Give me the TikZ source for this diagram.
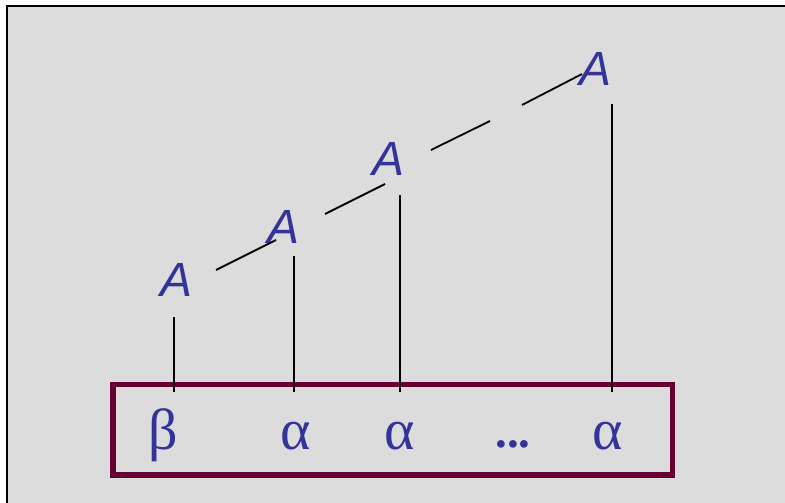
\documentclass[tikz,border=0pt]{standalone}
\usepackage{fontspec}
\setmainfont{Liberation Serif}
\newfontfamily\asans{Liberation Sans}
\definecolor{bgg}{HTML}{DCDCDC}
\definecolor{tblue}{HTML}{333399}
\definecolor{maroon}{HTML}{660033}
\begin{document}
\begin{tikzpicture}[x=1pt,y=-1pt,
  letA/.style={anchor=base,inner sep=0pt,text=tblue,font=\asans\itshape\fontsize{48}{50}\selectfont},
  greek/.style={anchor=base,inner sep=0pt,text=tblue,font=\fontsize{58}{60}\selectfont},
  link/.style={draw=black,line width=1.8pt},
  seq/.style={draw=maroon,line width=5.5pt}]
\useasboundingbox (0,0) rectangle (785,503);
\clip (0,0) rectangle (785,503);
\fill[white] (0,0) rectangle (785,503);
\draw[fill=bgg,line width=2pt] (7,6) rectangle (800,520);
% A nodes
\node[letA] (A1) at (177,296) {A};
\node[letA] (A2) at (284,243) {A};
\node[letA] (A3) at (389,175) {A};
\node[letA] (A4) at (596,86) {A};
% sequence box and symbols
\draw[seq] (113,384.5) rectangle (672.5,475);
\node[greek] (b1) at (163,449) {β};
\node[greek] (a1) at (296,449) {α};
\node[greek] (a2) at (400,449) {α};
\node[greek,font=\bfseries\fontsize{47}{50}\selectfont] (dots) at (513,447) {...};
\node[greek] (a3) at (608,449) {α};
% vertical line end points
\coordinate (v1t) at (174,317); \coordinate (v1b) at (174,392);
\coordinate (v2t) at (294,256);   \coordinate (v2b) at (294,392);
\coordinate (v3t) at (400,195);   \coordinate (v3b) at (400,392);
\coordinate (v4t) at (612,104);   \coordinate (v4b) at (612,392);
\draw[link] (v1t) -- (v1b);
\draw[link] (v2t) -- (v2b);
\draw[link] (v3t) -- (v3b);
\draw[link] (v4t) -- (v4b);
% diagonal segments
\coordinate (d1a) at (216,270); \coordinate (d1b) at (276,240);
\coordinate (d2a) at (325,214); \coordinate (d2b) at (385,184);
\coordinate (d3a) at (431,150); \coordinate (d3b) at (490,121);
\coordinate (d4a) at (522,105); \coordinate (d4b) at (582,74);
\draw[link] (d1a) -- (d1b);
\draw[link] (d2a) -- (d2b);
\draw[link] (d3a) -- (d3b);
\draw[link] (d4a) -- (d4b);
\end{tikzpicture}
\end{document}
